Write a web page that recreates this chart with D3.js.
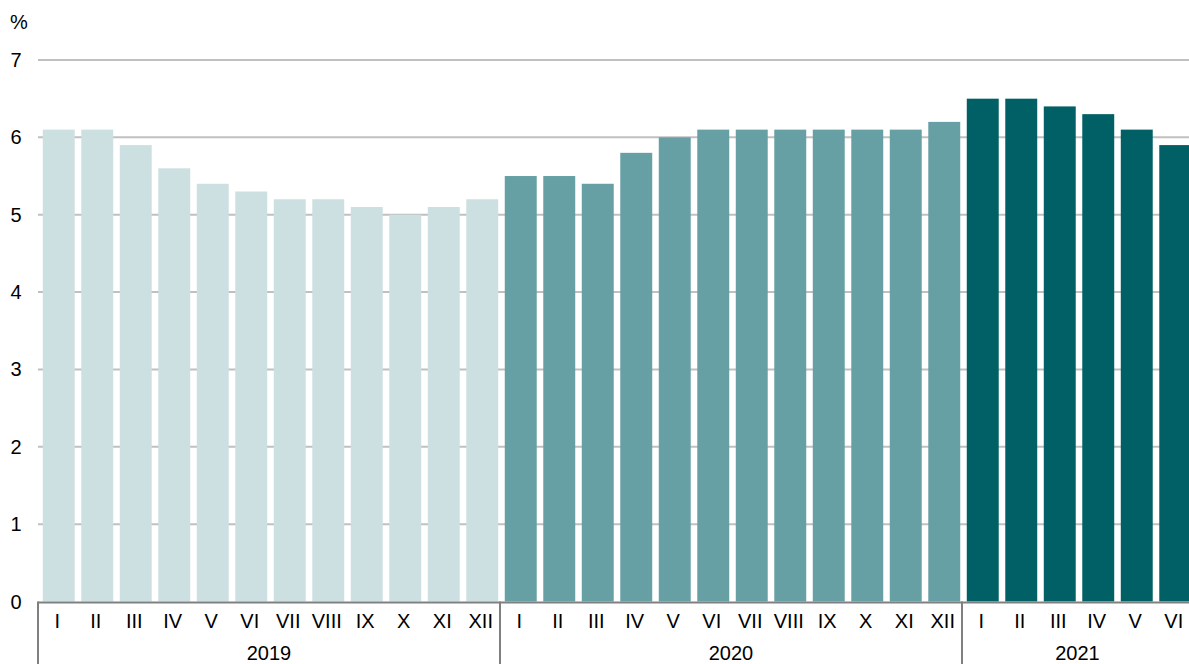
<!DOCTYPE html>
<html><head><meta charset="utf-8">
<script src="https://cdn.jsdelivr.net/npm/d3@7"></script>
<style>body{margin:0;background:#fff}svg{display:block}text{font-family:"Liberation Sans",Arial,sans-serif;fill:#000}</style>
</head><body><svg id="c" width="1189" height="664"></svg>
<script>
const months = ["I","II","III","IV","V","VI","VII","VIII","IX","X","XI","XII"];
const years = ["2019","2020","2021"];
const values2019 = [6.1,6.1,5.9,5.6,5.4,5.3,5.2,5.2,5.1,5.0,5.1,5.2];
const values2020 = [5.5,5.5,5.4,5.8,6.0,6.1,6.1,6.1,6.1,6.1,6.1,6.2];
const values2021 = [6.5,6.5,6.4,6.3,6.1,5.9];
const yTicks = [0,1,2,3,4,5,6,7];
const colors = {"2019":"#cde0e1","2020":"#66a0a4","2021":"#006065"};

const series = {"2019":values2019,"2020":values2020,"2021":values2021};
const data = [];
years.forEach(yr => series[yr].forEach((v,i) => data.push({year:yr, month:months[i], key:yr+"-"+months[i], value:v})));

const svg = d3.select("#c");
const pLeft = 38, pRight = 1193, pTop = 60, pBottom = 601.5;
const x = d3.scaleBand().domain(data.map(d=>d.key)).range([pLeft,pRight]).paddingInner(0.17).paddingOuter(0.085);
const xc = d3.scaleBand().domain(data.map(d=>d.key)).range([pLeft,pRight]);
const y = d3.scaleLinear().domain([0,7]).range([pBottom,pTop]);

// gridlines
svg.append("g").selectAll("line").data(yTicks.filter(t=>t>0)).join("line")
  .attr("x1",pLeft).attr("x2",1189).attr("y1",d=>y(d)).attr("y2",d=>y(d))
  .attr("stroke","#c0c0c0").attr("stroke-width",2);

// y labels
svg.append("g").selectAll("text").data(yTicks).join("text")
  .attr("x",16).attr("y",d=>y(d)).attr("dy","0.35em").attr("text-anchor","middle")
  .attr("font-size",20).text(d=>d);
svg.append("text").attr("x",19).attr("y",29).attr("text-anchor","middle").attr("font-size",20).text("%");

// bars
svg.append("g").selectAll("rect").data(data).join("rect")
  .attr("x",d=>x(d.key)+1.5).attr("width",x.bandwidth())
  .attr("y",d=>y(d.value)).attr("height",d=>pBottom-y(d.value))
  .attr("fill",d=>colors[d.year]);

// baseline
svg.append("line").attr("x1",pLeft).attr("x2",1189).attr("y1",pBottom+1).attr("y2",pBottom+1)
  .attr("stroke","#808080").attr("stroke-width",2);

// month labels
svg.append("g").selectAll("text").data(data).join("text")
  .attr("x",d=>xc(d.key)+xc.bandwidth()/2).attr("y",621).attr("dy","0.35em")
  .attr("text-anchor","middle").attr("font-size",20).text(d=>d.month);

// year groups
const groups = years.map(yr => {
  const ks = data.filter(d=>d.year===yr).map(d=>d.key);
  return {year:yr, x0:xc(ks[0]), x1:xc(ks[ks.length-1])+xc.bandwidth()};
});
svg.append("g").selectAll("line").data(groups).join("line")
  .attr("x1",d=>d.x0).attr("x2",d=>d.x0).attr("y1",pBottom).attr("y2",664)
  .attr("stroke","#808080").attr("stroke-width",2);
svg.append("g").selectAll("text").data(groups).join("text")
  .attr("x",d=>(d.x0+d.x1)/2).attr("y",660)
  .attr("text-anchor","middle").attr("font-size",20).text(d=>d.year);
</script></body></html>
